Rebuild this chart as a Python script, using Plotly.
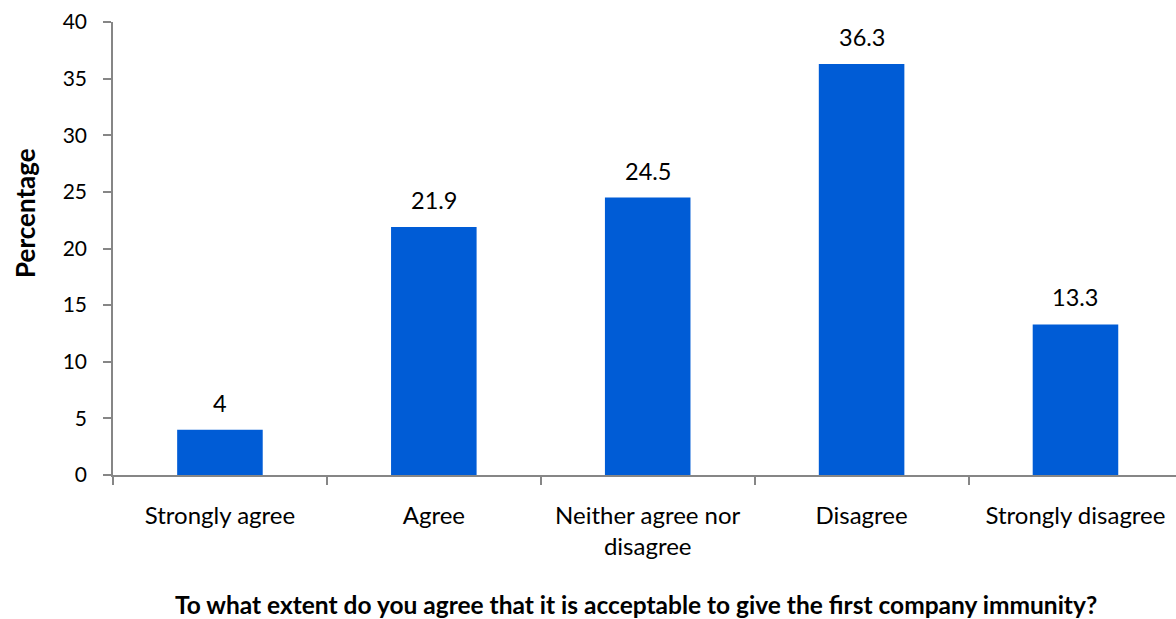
import plotly.graph_objects as go

categories = ["Strongly agree", "Agree", "Neither agree nor<br>disagree", "Disagree", "Strongly disagree"]
values = [4, 21.9, 24.5, 36.3, 13.3]
value_labels = ["4", "21.9", "24.5", "36.3", "13.3"]
y_ticks = [0, 5, 10, 15, 20, 25, 30, 35, 40]

FONT = "Lato, 'Noto Sans', sans-serif"
AXIS_COLOR = "#868686"

fig = go.Figure()
fig.add_trace(go.Bar(
    x=categories, y=values,
    marker=dict(color="#005CD6", line=dict(width=0)),
    width=0.4,
    hoverinfo="skip",
))

for c, v, t in zip(categories, values, value_labels):
    fig.add_annotation(x=c, y=v, text=t, showarrow=False, yanchor="middle",
                       yshift=27, font=dict(family=FONT, size=23.5, color="#000"))

fig.add_annotation(
    xref="paper", yref="paper", x=0.0564, y=-0.285,
    text="<b>To what extent do you agree that it is acceptable to give the first company immunity?</b>",
    showarrow=False, xanchor="left", yanchor="middle",
    font=dict(family=FONT, size=24.5, color="#000"))

fig.add_annotation(
    xref="paper", yref="paper", x=-0.083, y=0.578,
    text="<b>Percentage</b>", textangle=-90,
    showarrow=False, xanchor="center", yanchor="middle",
    font=dict(family=FONT, size=26, color="#000"))

fig.update_layout(
    width=1176, height=619,
    margin=dict(l=113, r=0, t=22, b=144),
    paper_bgcolor="white", plot_bgcolor="white",
    showlegend=False,
    font=dict(family=FONT, size=21, color="#000"),
    xaxis=dict(
        type="category", range=[-0.5, 4.47],
        showline=True, linecolor=AXIS_COLOR, linewidth=1.5,
        ticks="outside", tickson="boundaries", ticklen=8, tickcolor=AXIS_COLOR,
        tickwidth=1.5, showgrid=False, ticklabelstandoff=18,
        tickfont=dict(family=FONT, size=24, color="#000"),
    ),
    yaxis=dict(
        range=[0, 40], tickvals=y_ticks,
        showline=True, linecolor=AXIS_COLOR, linewidth=1.5,
        ticks="outside", ticklen=8, tickcolor=AXIS_COLOR, tickwidth=1.5,
        showgrid=False, zeroline=False, ticklabelstandoff=12,
        tickfont=dict(family=FONT, size=21, color="#000"),
    ),
)

fig.write_html("out.html")
